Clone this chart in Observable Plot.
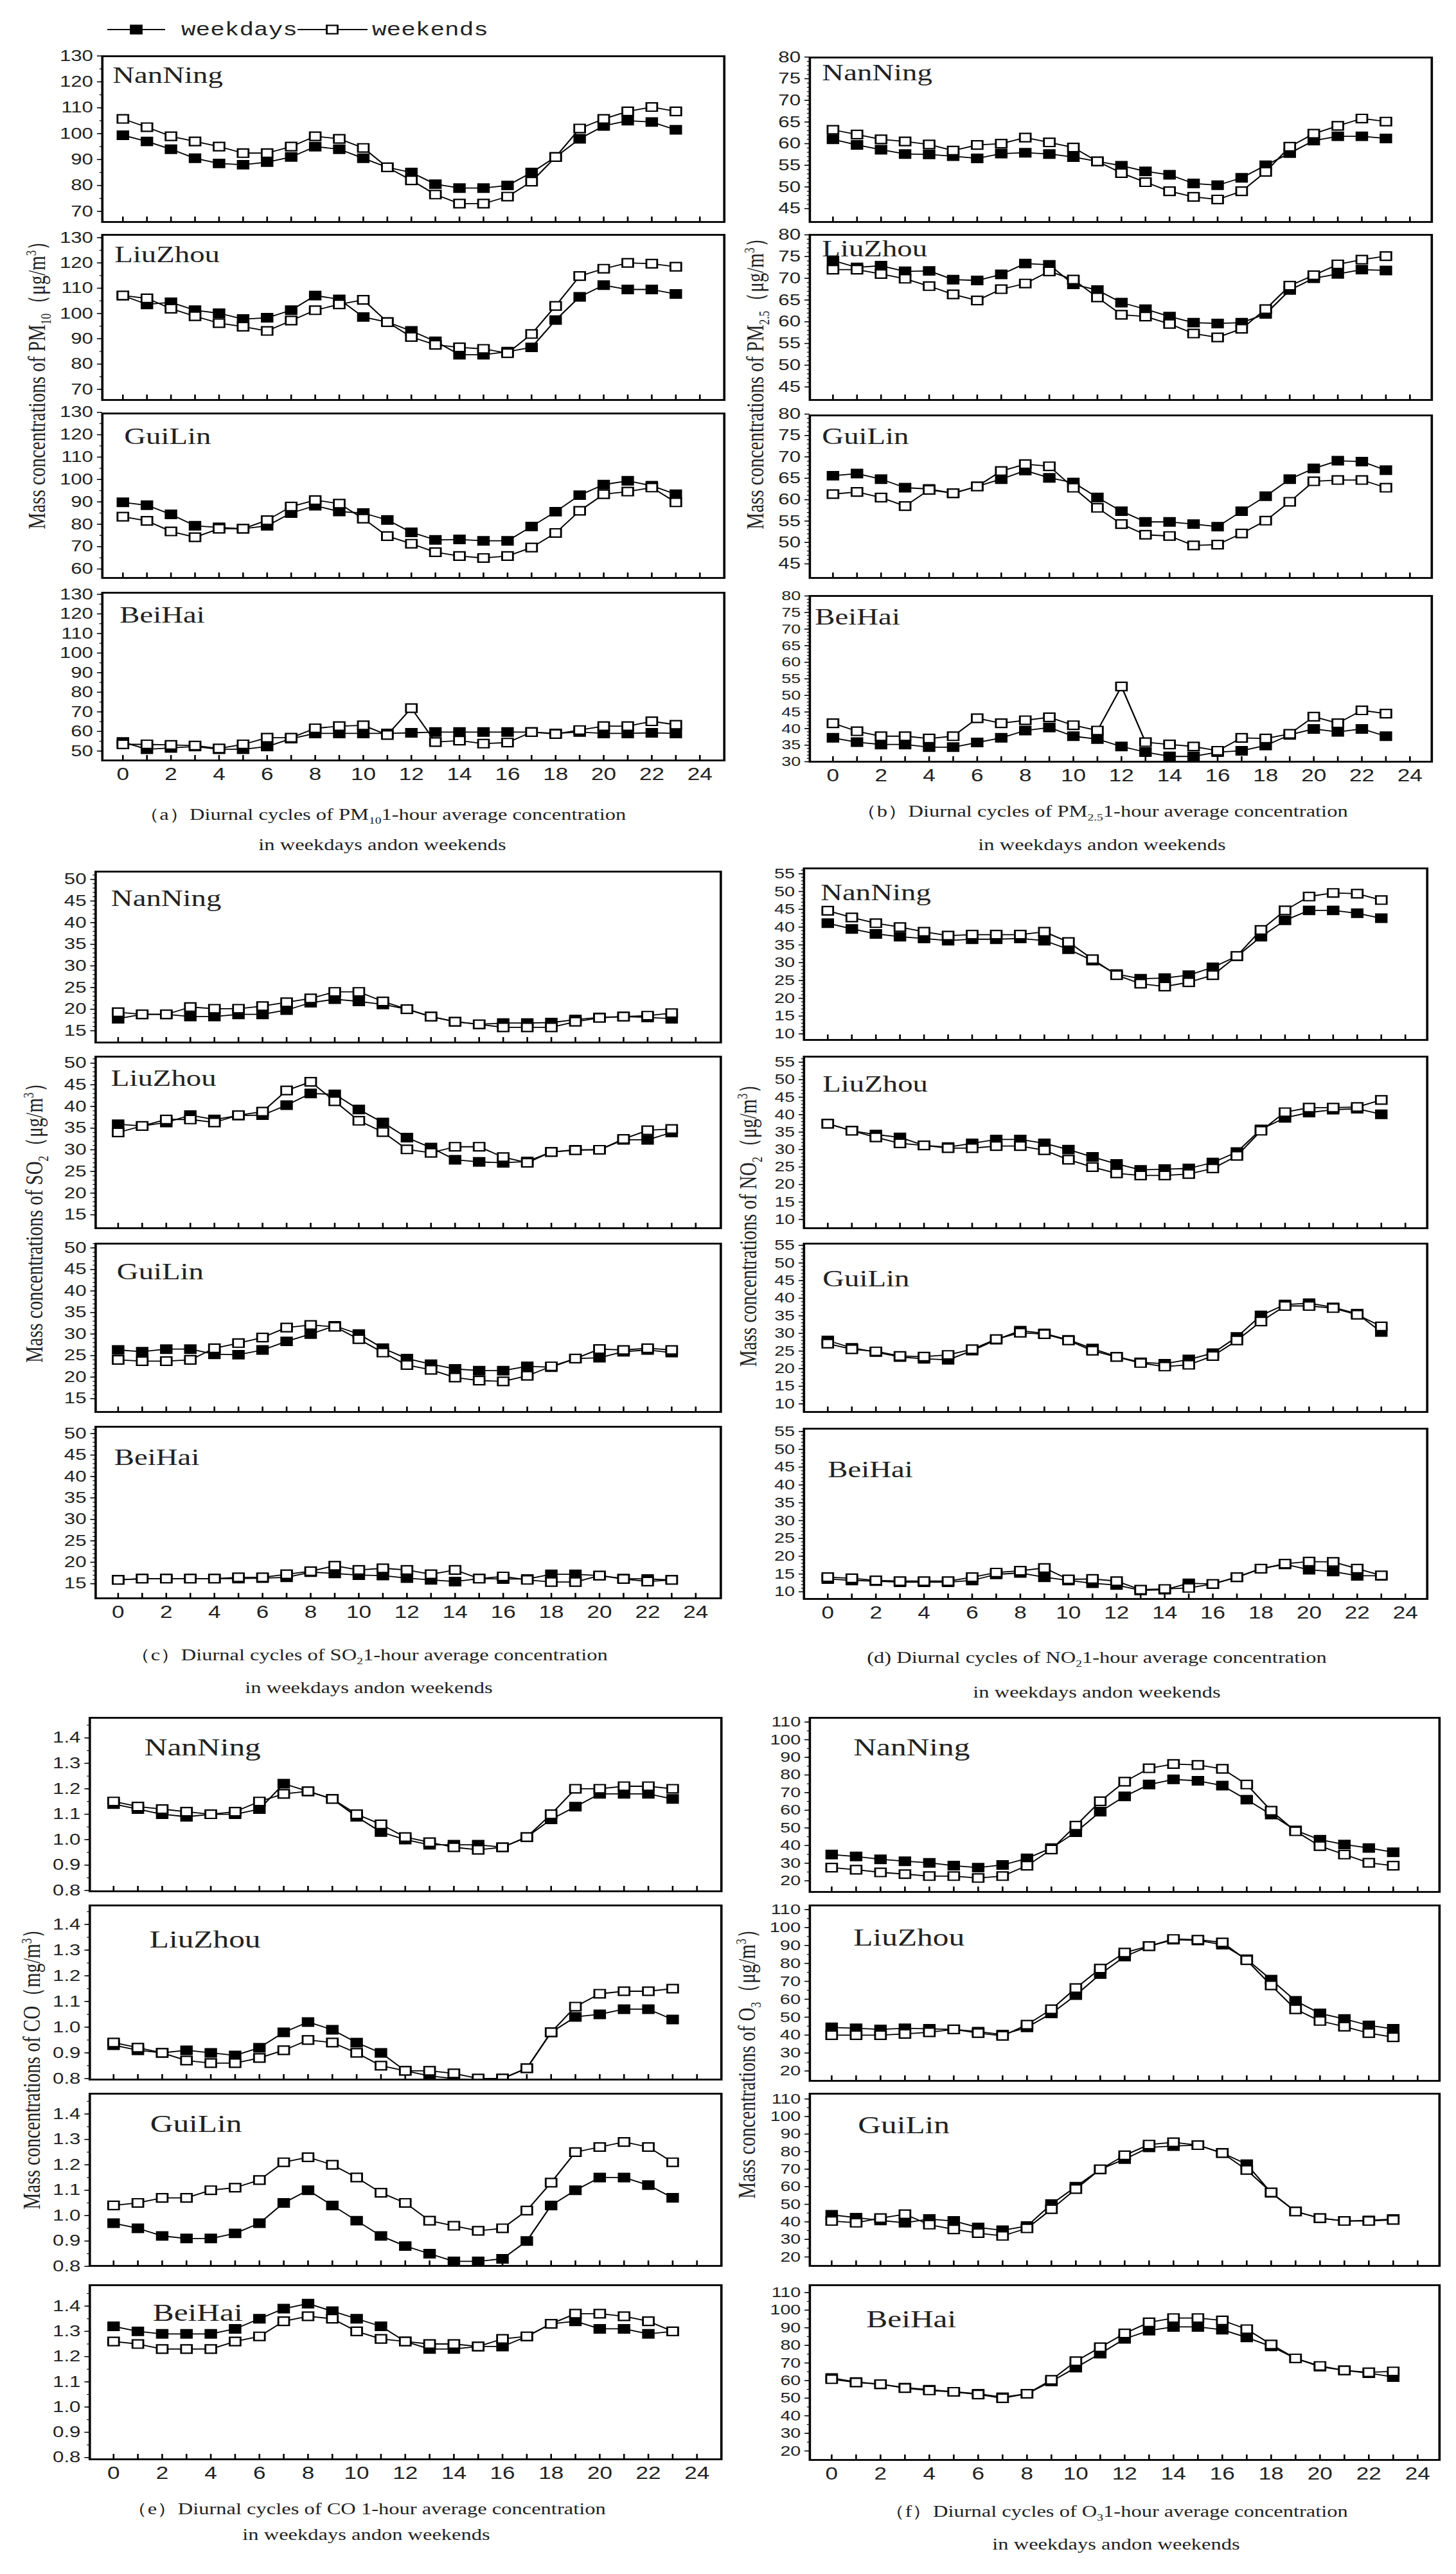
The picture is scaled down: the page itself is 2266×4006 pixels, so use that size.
<!DOCTYPE html>
<html><head><meta charset="utf-8">
<script src="https://cdn.jsdelivr.net/npm/d3@7"></script>
<script src="https://cdn.jsdelivr.net/npm/@observablehq/plot@0.6"></script>
<style>
html,body{margin:0;padding:0;background:#fff;overflow:hidden;}
#page{position:relative;width:1743px;height:4006px;transform:scaleX(1.3);transform-origin:0 0;background:#fff;}
#page svg{position:absolute;overflow:visible;}
.ytitle{position:absolute;white-space:nowrap;font-family:"Liberation Serif",serif;font-size:29px;color:#222;transform:translate(-50%,-50%) rotate(-90deg);}
.cap{position:absolute;white-space:nowrap;font-family:"Liberation Serif",serif;font-size:25px;color:#222;transform:translate(-50%,-50%);}
sub,sup{font-size:60%;}
</style></head>
<body><div id="page"></div>
<script>
const S = 1.3; // horizontal stretch of the original figure
const HOURS = [0,1,2,3,4,5,6,7,8,9,10,11,12,13,14,15,16,17,18,19,20,21,22,23];
const HOUR_MARKS = [0,1,2,3,4,5,6,7,8,9,10,11,12,13,14,15,16,17,18,19,20,21,22,23,24];
const X_TICKS = [0,2,4,6,8,10,12,14,16,18,20,22,24];
const CITIES = ["NanNing","LiuZhou","GuiLin","BeiHai"];
const SERIES = ["weekdays","weekends"];

// ---- (a) PM10 ----
const PM10_NANNING_WD = [99.4,97,94,90.5,88.5,88,89,91,95,94,90.5,87,85,80.5,79,79,80,85,91,98,103,105,104.5,101.5];
const PM10_NANNING_WE = [105.7,102.5,99,97,95,92.5,92.5,95,99,98,94.5,87,82,76.5,73,73,75.7,81.5,91,102,105.7,108.6,110.3,108.6];
const PM10_LIUZHOU_WD = [107.1,103.6,104.4,101.3,100.1,97.8,98.3,101.3,107.1,105.6,98.6,96.6,93.1,89,83.7,83.7,84.9,86.6,97.4,106.6,111.2,109.5,109.5,107.7];
const PM10_LIUZHOU_WE = [107.1,106,101.9,98.9,96.2,94.8,93.1,97.2,101.3,103.6,105.4,96.6,90.7,87.6,86.6,86,84.3,91.9,103,114.8,117.7,120,119.7,118.5];
const PM10_GUILIN_WD = [89.8,88.5,84.4,79.3,78.6,78,79.3,85,88.3,85.7,85,81.9,76.4,73,73.2,72.6,72.6,79,85.6,93,97.7,99.4,97.2,93.4];
const PM10_GUILIN_WE = [83.4,81.5,76.8,74.2,78,78,81.8,87.9,90.8,89.2,82.5,74.7,71.3,67.5,65.8,64.9,65.8,69.6,76.1,86,93.4,94.6,96.4,89.8];
const PM10_BEIHAI_WD = [54.6,50.9,51.6,52.3,50.9,50.9,52.3,56.3,59,59,59,59,59.3,59.7,59.7,59.7,59.7,59.7,59,59.7,59,59,59.3,59];
const PM10_BEIHAI_WE = [53.4,53.4,53.1,52.8,51.3,53.4,56.8,56.8,61.6,62.7,63.1,58.2,71.9,54.6,55.3,53.8,54.3,59.7,58.7,60.7,62.7,62.7,65.2,63.4];
// ---- (b) PM2.5 ----
const PM25_NANNING_WD = [61,59.7,58.6,57.6,57.5,57.1,56.6,57.7,57.9,57.6,56.9,55.9,54.9,53.6,52.8,50.8,50.4,52.1,55,57.8,60.7,61.7,61.7,61.2];
const PM25_NANNING_WE = [63.2,62.1,61,60.5,59.8,58.4,59.7,60,61.4,60.3,59.1,55.9,53.2,51.1,49,47.7,47.1,49,53.5,59.3,62.3,64.1,65.8,65.1];
const PM25_LIUZHOU_WD = [74.1,72.5,72.9,71.6,71.7,69.7,69.5,70.9,73.4,73.1,68.6,67.3,64.4,62.9,61.2,59.8,59.6,59.8,61.8,67.3,70,71,72,71.8];
const PM25_LIUZHOU_WE = [72,72,71,69.9,68.2,66.3,64.9,67.5,68.8,71.6,69.7,65.6,61.6,61.2,59.5,57.3,56.4,58.4,62.9,68.3,70.7,73.2,74.3,75.1];
const PM25_GUILIN_WD = [65.6,66.1,64.8,62.8,62.5,61.5,63.1,64.8,66.8,65.1,64,60.5,57.3,54.8,54.8,54.3,53.7,57.3,60.8,64.8,67.3,69.1,68.9,66.9];
const PM25_GUILIN_WE = [61.3,61.8,60.5,58.5,62.3,61.5,63.1,66.7,68.3,67.8,62.8,58.1,54.3,51.8,51.5,49.3,49.5,52.1,55.1,59.5,64.3,64.6,64.6,62.8];
const PM25_BEIHAI_WD = [37.2,35.9,35.2,35.2,34.4,34.4,35.8,37.2,39.4,40.3,37.7,36.8,34.6,32.9,31.6,31.6,32.9,33.3,34.9,38.1,39.9,39,39.9,37.7];
const PM25_BEIHAI_WE = [41.6,39.2,37.7,37.7,37,37.7,43.1,41.6,42.5,43.4,41,39.4,52.7,35.9,35.2,34.6,33.3,37.2,37,38.4,43.6,41.6,45.5,44.5];
// ---- (c) SO2 ----
const SO2_NANNING_WD = [17.8,18.8,18.8,18.3,18.3,18.8,18.8,19.8,21.5,22.3,21.8,21.1,20,18.3,17.1,16.5,16.8,16.8,16.9,17.6,18.1,18.3,18.1,17.8];
const SO2_NANNING_WE = [19.3,18.8,18.8,20.5,20.1,20.1,20.7,21.6,22.5,24,24,21.8,20,18.3,17.1,16.5,15.8,15.8,15.8,17.1,18,18.3,18.5,19.1];
const SO2_LIUZHOU_WD = [35.9,35.5,36.3,38,37,37.9,38,40.3,43,42.8,39.3,36.3,32.8,30.5,27.7,27.2,27,27.3,29.5,30,30,32.3,32.3,34];
const SO2_LIUZHOU_WE = [34,35.5,37,37,36.3,38,38.8,43.7,45.7,41.2,36.7,34.1,30.1,29.3,30.7,30.7,28.3,27,29.5,29.9,30,32.5,34.5,34.8];
const SO2_GUILIN_WD = [26.3,25.9,26.5,26.5,25.3,25.2,26.3,28.3,30,31.9,30,26.7,24.3,23,21.9,21.5,21.5,22.5,22.3,24.3,24.5,25.9,26.3,25.7];
const SO2_GUILIN_WE = [24,23.7,23.7,24,26.7,27.9,29.2,31.5,32.1,31.7,28.8,25.7,22.8,21.7,19.9,19.2,19,20.3,22.5,24.3,26.5,26.3,26.7,26.3];
const SO2_BEIHAI_WD = [15.9,16.2,16.2,16.2,16.2,16.2,16.3,16.5,17.7,17.4,17,16.9,16.3,15.9,15.5,16.2,16.1,16.1,17.2,17.2,16.9,16.2,16.1,15.9];
const SO2_BEIHAI_WE = [15.9,16.2,16.2,16.2,16.2,16.5,16.5,17.2,17.9,19.2,18.2,18.6,18.2,17.2,18.2,16.2,16.7,15.9,15.4,15.4,16.9,16.1,15.5,15.9];
// ---- (d) NO2 ----
const NO2_NANNING_WD = [41.1,39.5,38.1,37.3,36.8,36.2,36.6,36.6,36.8,36.2,33.8,30.6,26.8,25.5,25.7,26.5,28.7,31.8,37.3,41.9,44.7,44.7,43.9,42.5];
const NO2_NANNING_WE = [44.6,42.7,41.1,40,38.7,37.6,37.9,37.9,37.9,38.7,35.8,31,26.5,24.1,23.3,24.5,26.5,31.9,39.2,44.7,48.6,49.6,49.4,47.6];
const NO2_LIUZHOU_WD = [37.4,35.4,34.3,33.5,31.2,30.7,31.8,32.9,32.9,31.8,30,27.9,25.9,24.2,24.4,24.6,26.3,29.3,35.8,39.1,40.6,41.4,41.7,40.1];
const NO2_LIUZHOU_WE = [37.4,35.4,33.5,31.8,31.2,30.4,30.4,31,31,29.8,27.1,25,23.2,22.6,22.6,23,24.6,28.2,35.4,40.7,42,42,42.2,44.2];
const NO2_GUILIN_WD = [28,25.9,24.7,23.3,22.8,22.5,25.1,28.2,30.8,30,28.2,25.7,23.4,21.8,21.4,22.6,24.4,29,35.1,38.2,38.6,37.4,35.6,30.4];
const NO2_GUILIN_WE = [27.1,25.5,24.9,23.6,23.4,23.9,25.5,28.4,30.2,29.8,28,25.1,23.3,21.6,20.6,21.1,23.6,28,33.4,37.8,37.8,37.2,35.3,32];
const NO2_BEIHAI_WD = [13.6,13.2,13,12.7,12.7,12.7,13.2,14.9,15.3,14.1,13.2,12.4,11.9,10.4,10.6,12.4,12.2,14.1,16.5,17.7,16.2,15.7,14.5,14.5];
const NO2_BEIHAI_WE = [14.1,13.8,13.2,13,13,13,14.1,15.4,15.9,16.7,13.5,13.6,13,10.6,10.8,11.1,12.2,14.1,16.5,17.9,18.5,18.4,16.5,14.6];
// ---- (e) CO ----
const CO_NANNING_WD = [1.14,1.12,1.1,1.09,1.1,1.1,1.12,1.22,1.19,1.16,1.09,1.03,1.0,0.98,0.98,0.98,0.97,1.01,1.08,1.13,1.18,1.18,1.18,1.16];
const CO_NANNING_WE = [1.15,1.13,1.12,1.11,1.1,1.11,1.15,1.18,1.19,1.16,1.1,1.06,1.01,0.99,0.97,0.96,0.97,1.01,1.1,1.2,1.2,1.21,1.21,1.2];
const CO_LIUZHOU_WD = [0.93,0.91,0.9,0.91,0.9,0.89,0.92,0.98,1.02,0.99,0.94,0.9,0.83,0.81,0.8,0.79,0.8,0.84,0.98,1.04,1.05,1.07,1.07,1.03];
const CO_LIUZHOU_WE = [0.94,0.92,0.9,0.87,0.86,0.86,0.88,0.91,0.95,0.94,0.9,0.85,0.83,0.83,0.82,0.8,0.8,0.84,0.98,1.08,1.13,1.14,1.14,1.15];
const CO_GUILIN_WD = [0.97,0.95,0.92,0.91,0.91,0.93,0.97,1.05,1.1,1.04,0.98,0.92,0.88,0.85,0.82,0.82,0.83,0.9,1.04,1.1,1.15,1.15,1.12,1.07];
const CO_GUILIN_WE = [1.04,1.05,1.07,1.07,1.1,1.11,1.14,1.21,1.23,1.2,1.15,1.09,1.05,0.98,0.96,0.94,0.95,1.02,1.13,1.25,1.27,1.29,1.27,1.21];
const CO_BEIHAI_WD = [1.32,1.3,1.29,1.29,1.29,1.31,1.35,1.39,1.41,1.38,1.35,1.32,1.26,1.23,1.23,1.24,1.24,1.28,1.33,1.34,1.31,1.31,1.29,1.3];
const CO_BEIHAI_WE = [1.26,1.25,1.23,1.23,1.23,1.26,1.28,1.34,1.36,1.35,1.3,1.27,1.26,1.25,1.25,1.24,1.27,1.28,1.33,1.37,1.37,1.36,1.34,1.3];
// ---- (f) O3 ----
const O3_NANNING_WD = [34.9,33.8,32.2,31.1,30.2,28.6,27.5,29,32.7,38.6,47.6,59.2,67.9,74.6,77.5,76.7,74,66,57.6,48.6,43.3,40.6,38.6,36.2];
const O3_NANNING_WE = [27.5,26.3,24.8,23.8,22.7,22.7,21.6,22.7,28.6,37.8,51.3,65.1,76.2,83.8,86.2,85.7,83.5,74.6,59.7,48.1,39.7,34.9,30.2,28.6];
const O3_LIUZHOU_WD = [44.3,43.8,43.2,43.8,43.5,43.2,41.9,40.3,44.3,52.1,62.3,74,83.8,89.6,93.2,92.8,90.4,82.3,70.9,59.1,52.1,49,45.4,43.5];
const O3_LIUZHOU_WE = [40,40,40,40.7,41.6,43.2,41.1,39.6,45.8,54.4,66.2,77.1,86,89.6,93.6,93.2,91.7,81.8,67.7,54.4,47.9,44.7,41.1,38.8];
const O3_GUILIN_WD = [44,42.4,40.8,39.5,41.6,40.5,36.8,35.2,37.6,50.1,60,69.9,75.7,82.4,83.2,83.7,79.2,72.8,56.5,45.9,42.1,40.5,40.8,41.6];
const O3_GUILIN_WE = [40.5,39.5,42.1,44.3,38.4,35.7,33.6,32,36.3,47.2,58.7,69.9,77.9,84,85.3,83.7,79.2,69.6,56.8,45.9,42.1,40.5,40.5,41.1];
const O3_BEIHAI_WD = [61.5,59.2,57.9,56,54.8,53.6,52.5,50.5,52.5,59.5,67.4,75.3,83.7,88.4,90.5,90.5,88.9,84.5,79.4,72.6,67.9,65.8,64.2,62];
const O3_BEIHAI_WE = [60.8,58.9,57.9,55.7,54.4,53.6,52.1,50,52.5,60.4,71,78.9,86.8,93.1,95.5,95.5,94.2,89.2,80.5,72.6,68.3,65.8,64.7,65.2];

// ---- y tick labels ----
const TICKS_PM10_70 = [70,80,90,100,110,120,130];
const TICKS_PM10_60 = [60,70,80,90,100,110,120,130];
const TICKS_PM10_50 = [50,60,70,80,90,100,110,120,130];
const TICKS_PM25_45 = [45,50,55,60,65,70,75,80];
const TICKS_PM25_30 = [30,35,40,45,50,55,60,65,70,75,80];
const TICKS_SO2 = [15,20,25,30,35,40,45,50];
const TICKS_NO2 = [10,15,20,25,30,35,40,45,50,55];
const TICKS_CO = [0.8,0.9,1.0,1.1,1.2,1.3,1.4];
const TICKS_O3 = [20,30,40,50,60,70,80,90,100,110];

// ---- texts ----
const YTITLES = [
  'Mass concentrations of PM<sub>10</sub>（μg/m<sup>3</sup>）',
  'Mass concentrations of PM<sub>2.5</sub>（μg/m<sup>3</sup>）',
  'Mass concentrations of SO<sub>2</sub>（μg/m<sup>3</sup>）',
  'Mass concentrations of NO<sub>2</sub>（μg/m<sup>3</sup>）',
  'Mass concentrations of CO（mg/m<sup>3</sup>）',
  'Mass concentrations of O<sub>3</sub>（μg/m<sup>3</sup>）'
];
const CAPTIONS = [
  '（a）Diurnal cycles of PM<sub>10</sub>1-hour average concentration',
  '（b）Diurnal cycles of PM<sub>2.5</sub>1-hour average concentration',
  '（c）Diurnal cycles of SO<sub>2</sub>1-hour average concentration',
  '(d) Diurnal cycles of NO<sub>2</sub>1-hour average concentration',
  '（e）Diurnal cycles of CO 1-hour average concentration',
  '（f）Diurnal cycles of O<sub>3</sub>1-hour average concentration'
];
const CAPTION2 = 'in weekdays andon weekends';

// ---- layout (original-pixel positions of each panel group) ----
const groups = [
  {series:[[PM10_NANNING_WD,PM10_NANNING_WE],[PM10_LIUZHOU_WD,PM10_LIUZHOU_WE],[PM10_GUILIN_WD,PM10_GUILIN_WE],[PM10_BEIHAI_WD,PM10_BEIHAI_WE]],
   ticks:[TICKS_PM10_70,TICKS_PM10_70,TICKS_PM10_60,TICKS_PM10_50], minor:5, fmt:d3.format("d"),
   ydom:[[65.9,129.9],[65.8,131.1],[56,129.5],[45.2,130.8]],
   left:158,right:1126,x0:190,x24:1088, rows:[[87,345],[365,622],[643,899],[922,1183]],
   lab:[[16,42],[19,43],[34,48],[27,47]], labSize:36,
   ytitle:[58,592], cap:[595,1268,1315]},
  {series:[[PM25_NANNING_WD,PM25_NANNING_WE],[PM25_LIUZHOU_WD,PM25_LIUZHOU_WE],[PM25_GUILIN_WD,PM25_GUILIN_WE],[PM25_BEIHAI_WD,PM25_BEIHAI_WE]],
   ticks:[TICKS_PM25_45,TICKS_PM25_45,TICKS_PM25_45,TICKS_PM25_30], minor:1, fmt:d3.format("d"),
   ydom:[[41.9,79.9],[42,80],[41.7,79.7],[30,80]],
   left:1260,right:2228,x0:1296,x24:2194, rows:[[89,345],[365,622],[646,899],[927,1185]],
   lab:[[19,36],[19,34],[19,45],[8,45]], labSize:36,
   ytitle:[1177,590], cap:[1715,1263,1315]},
  {series:[[SO2_NANNING_WD,SO2_NANNING_WE],[SO2_LIUZHOU_WD,SO2_LIUZHOU_WE],[SO2_GUILIN_WD,SO2_GUILIN_WE],[SO2_BEIHAI_WD,SO2_BEIHAI_WE]],
   ticks:[TICKS_SO2,TICKS_SO2,TICKS_SO2,TICKS_SO2], minor:1, fmt:d3.format("d"),
   ydom:[[12.3,51.8],[11.9,51.5],[11.9,51],[11.6,51.6]],
   left:148,right:1121,x0:183,x24:1082, rows:[[1356,1622],[1644,1911],[1935,2197],[2220,2487]],
   lab:[[24,54],[24,46],[33,56],[29,60]], labSize:36,
   ytitle:[54,1896], cap:[574,2576,2627]},
  {series:[[NO2_NANNING_WD,NO2_NANNING_WE],[NO2_LIUZHOU_WD,NO2_LIUZHOU_WE],[NO2_GUILIN_WD,NO2_GUILIN_WE],[NO2_BEIHAI_WD,NO2_BEIHAI_WE]],
   ticks:[TICKS_NO2,TICKS_NO2,TICKS_NO2,TICKS_NO2], minor:1, fmt:d3.format("d"),
   ydom:[[8.3,56.5],[7.5,56.6],[7.7,55.5],[8,55.8]],
   left:1250,right:2220,x0:1287,x24:2186, rows:[[1351,1618],[1644,1911],[1935,2197],[2223,2488]],
   lab:[[26,50],[29,55],[29,67],[37,76]], labSize:36,
   ytitle:[1166,1900], cap:[1707,2582,2634]},
  {series:[[CO_NANNING_WD,CO_NANNING_WE],[CO_LIUZHOU_WD,CO_LIUZHOU_WE],[CO_GUILIN_WD,CO_GUILIN_WE],[CO_BEIHAI_WD,CO_BEIHAI_WE]],
   ticks:[TICKS_CO,TICKS_CO,TICKS_CO,TICKS_CO], minor:0.05, fmt:d3.format(".1f"),
   ydom:[[0.797,1.479],[0.796,1.474],[0.802,1.48],[0.793,1.483]],
   left:139,right:1122,x0:176,x24:1084, rows:[[2673,2943],[2965,3236],[3258,3526],[3556,3827]],
   lab:[[85,59],[93,66],[94,60],[98,56]], labSize:38,
   ytitle:[51,3213], cap:[570,3904,3945]},
  {series:[[O3_NANNING_WD,O3_NANNING_WE],[O3_LIUZHOU_WD,O3_LIUZHOU_WE],[O3_GUILIN_WD,O3_GUILIN_WE],[O3_BEIHAI_WD,O3_BEIHAI_WE]],
   ticks:[TICKS_O3,TICKS_O3,TICKS_O3,TICKS_O3], minor:5, fmt:d3.format("d"),
   ydom:[[13.7,112.4],[14.5,112.3],[14.9,113],[14.9,114.2]],
   left:1260,right:2240,x0:1294,x24:2206, rows:[[2673,2944],[2965,3238],[3258,3526],[3556,3828]],
   lab:[[68,59],[68,63],[75,62],[88,66]], labSize:38,
   ytitle:[1163,3205], cap:[1737,3909,3960]}
];

const page = document.getElementById("page");

function makePanel(g, ci) {
  const [top, bottom] = g.rows[ci];
  const [ymin, ymax] = g.ydom[ci];
  const isBottom = ci === 3;
  const ml = 70, mr = 6, mt = 6, mb = isBottom ? 50 : 6;
  const fw = (g.right - g.left) / S, fh = bottom - top;
  const ph = (g.x24 - g.x0) / 24;
  const xdom = [(g.left - g.x0) / ph, (g.right - g.x0) / ph];
  const [wd, we] = g.series[ci];
  const rowsWD = HOURS.map((h, i) => ({hour: h, value: wd[i], series: SERIES[0]}));
  const rowsWE = HOURS.map((h, i) => ({hour: h, value: we[i], series: SERIES[1]}));
  const ticks = g.ticks[ci];
  const step = ticks[1] - ticks[0];
  const spacing = step * fh / (ymax - ymin);
  const fs = Math.min(24, spacing * 0.8);
  const minor = d3.range(ticks[0], ymax + 1e-9, g.minor).map(v => +v.toFixed(3));
  const marks = [
    Plot.tickX(HOUR_MARKS, {x: d => d, insetTop: fh - 8, stroke: "#000", strokeWidth: 2}),
    Plot.axisY(minor, {tickSize: 3, tickFormat: () => "", label: null, strokeWidth: 1.2}),
    Plot.axisY(ticks, {tickSize: 6, tickPadding: 5, tickFormat: g.fmt, label: null, fontSize: fs,
      fontFamily: "Liberation Sans, Arial, sans-serif", fill: "#222", strokeWidth: 1.5}),
    Plot.line(rowsWD, {x: "hour", y: "value", stroke: "#000", strokeWidth: 1.8, clip: true}),
    Plot.line(rowsWE, {x: "hour", y: "value", stroke: "#000", strokeWidth: 1.8, clip: true}),
    Plot.dot(rowsWD, {x: "hour", y: "value", symbol: "square", r: 7.3, fill: "#000", stroke: "#000", strokeWidth: 2, clip: true}),
    Plot.dot(rowsWE, {x: "hour", y: "value", symbol: "square", r: 7.3, fill: "#fff", stroke: "#000", strokeWidth: 2.2, clip: true}),
    Plot.text([CITIES[ci]], {text: d => d, frameAnchor: "top-left", dx: g.lab[ci][0] / S, dy: g.lab[ci][1],
      textAnchor: "start", lineAnchor: "bottom", fontSize: g.labSize, fontFamily: "Liberation Serif, Times New Roman, serif", fill: "#222"}),
    Plot.frame({stroke: "#000", strokeWidth: 2.8})
  ];
  if (isBottom) {
    marks.push(Plot.axisX(X_TICKS, {tickSize: 0, tickPadding: 11, label: null, fontSize: 27,
      fontFamily: "Liberation Sans, Arial, sans-serif", fill: "#222", tickFormat: d3.format("d")}));
  }
  const svg = Plot.plot({
    width: fw + ml + mr, height: fh + mt + mb,
    marginLeft: ml, marginRight: mr, marginTop: mt, marginBottom: mb,
    x: {domain: xdom, ...(isBottom ? {} : {axis: null})},
    y: {domain: [ymin, ymax]},
    style: {background: "transparent", overflow: "visible"},
    marks
  });
  svg.style.left = (g.left / S - ml) + "px";
  svg.style.top = (top - mt) + "px";
  svg.style.maxWidth = "none";
  page.appendChild(svg);
}

groups.forEach(g => {
  CITIES.forEach((c, ci) => makePanel(g, ci));
  const yt = document.createElement("div");
  yt.className = "ytitle";
  yt.innerHTML = YTITLES[groups.indexOf(g)];
  yt.style.left = (g.ytitle[0] / S) + "px";
  yt.style.top = g.ytitle[1] + "px";
  page.appendChild(yt);
  const c1 = document.createElement("div");
  c1.className = "cap";
  c1.innerHTML = CAPTIONS[groups.indexOf(g)];
  c1.style.left = (g.cap[0] / S) + "px";
  c1.style.top = g.cap[1] + "px";
  page.appendChild(c1);
  const c2 = document.createElement("div");
  c2.className = "cap";
  c2.textContent = CAPTION2;
  c2.style.left = (g.cap[0] / S) + "px";
  c2.style.top = g.cap[2] + "px";
  page.appendChild(c2);
});

// ---- legend ----
const leg = d3.select(page).append("svg")
  .attr("width", 700).attr("height", 80)
  .style("left", "0px").style("top", "0px");
const ly = 46;
[[167, 257, 212, "#000", 282, SERIES[0]], [463, 572, 517, "#fff", 579, SERIES[1]]].forEach(([a, b, m, fill, tx, label]) => {
  leg.append("line").attr("x1", a / S).attr("x2", b / S).attr("y1", ly).attr("y2", ly)
    .attr("stroke", "#000").attr("stroke-width", 2);
  leg.append("rect").attr("x", m / S - 6.5).attr("y", ly - 6.5).attr("width", 13).attr("height", 13)
    .attr("fill", fill).attr("stroke", "#000").attr("stroke-width", 2.2);
  leg.append("text").attr("x", tx / S).attr("y", ly + 9).text(label)
    .attr("font-family", "Liberation Mono, Courier New, monospace").attr("font-size", 29).attr("fill", "#222");
});
</script>
</body></html>
